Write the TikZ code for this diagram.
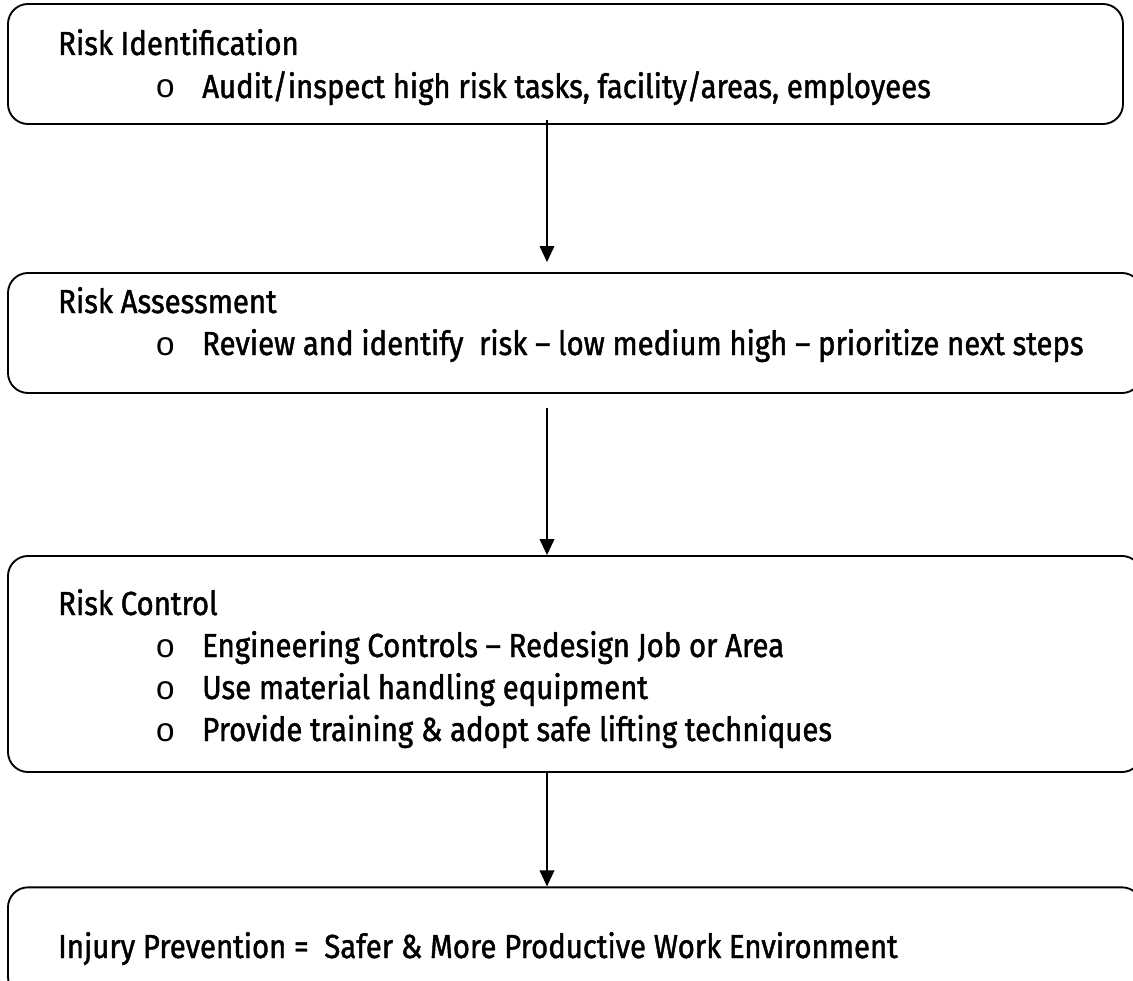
\documentclass[tikz,border=0pt]{standalone}
\usepackage{fontspec}
\setmainfont{Fira Sans}[FakeStretch=0.88, FakeBold=1.3]
\newfontfamily\bulletfont{Liberation Mono}
\usetikzlibrary{arrows.meta}
\tikzstyle{stage} = [rectangle, rounded corners=15pt, draw=black,
line width=1.4pt, inner sep=0pt]
\tikzstyle{heading} = [anchor=base west, inner sep=0pt,
font=\fontsize{25}{29}\selectfont]
\tikzstyle{bullet} = [anchor=base west, inner sep=0pt,
font=\bulletfont\fontsize{25}{29}\selectfont]
\tikzstyle{arrow} = [line width=1.1pt, -{Triangle[width=11pt,length=12pt]}]

\begin{document}
\begin{tikzpicture}[x=0.75pt, y=-0.75pt]
\clip (0,0) rectangle (1133,981);
%The stage boxes
\node (ident) [stage, minimum width=836.25pt, minimum height=90pt] at (565.5,64) {};
\node (assess) [stage, minimum width=850.5pt, minimum height=90pt] at (575,333) {};
\node (control) [stage, minimum width=850.5pt, minimum height=162pt] at (575,664) {};
\node (prevent) [stage, minimum width=850.5pt, minimum height=82pt] at (575,942) {};
% Texts in the boxes
\node (identT) [heading] at (58,55) {Risk Identification};
\node (identB) [bullet] at (155,98) {o};
\node (identA) [heading] at (202,98) {Audit/inspect high risk tasks, facility/areas, employees};
\node (assessT) [heading] at (58,313) {Risk Assessment};
\node (assessB) [bullet] at (155,355) {o};
\node (assessA) [heading] at (202,355) {Review and identify\ \ risk -- low medium high -- prioritize next steps};
\node (controlT) [heading] at (58,615) {Risk Control};
\node (controlB1) [bullet] at (155,657) {o};
\node (controlA1) [heading] at (202,657) {Engineering Controls -- Redesign Job or Area};
\node (controlB2) [bullet] at (155,699) {o};
\node (controlA2) [heading] at (202,699) {Use material handling equipment};
\node (controlB3) [bullet] at (155,741) {o};
\node (controlA3) [heading] at (202,741) {Provide training \& adopt safe lifting techniques};
\node (preventT) [heading] at (58,958) {Injury Prevention =\ \ Safer \& More Productive Work Environment};
% Drawing the arrows between boxes
\coordinate (ax) at (547,0);
\draw[arrow, shorten >=7.5pt] ([yshift=3.5pt]ident.south -| ax) -- (assess.north -| ax);
\draw[arrow, shorten <=10.5pt] (assess.south -| ax) -- (control.north -| ax);
\draw[arrow] (control.south -| ax) -- (prevent.north -| ax);
\end{tikzpicture}
\end{document}
